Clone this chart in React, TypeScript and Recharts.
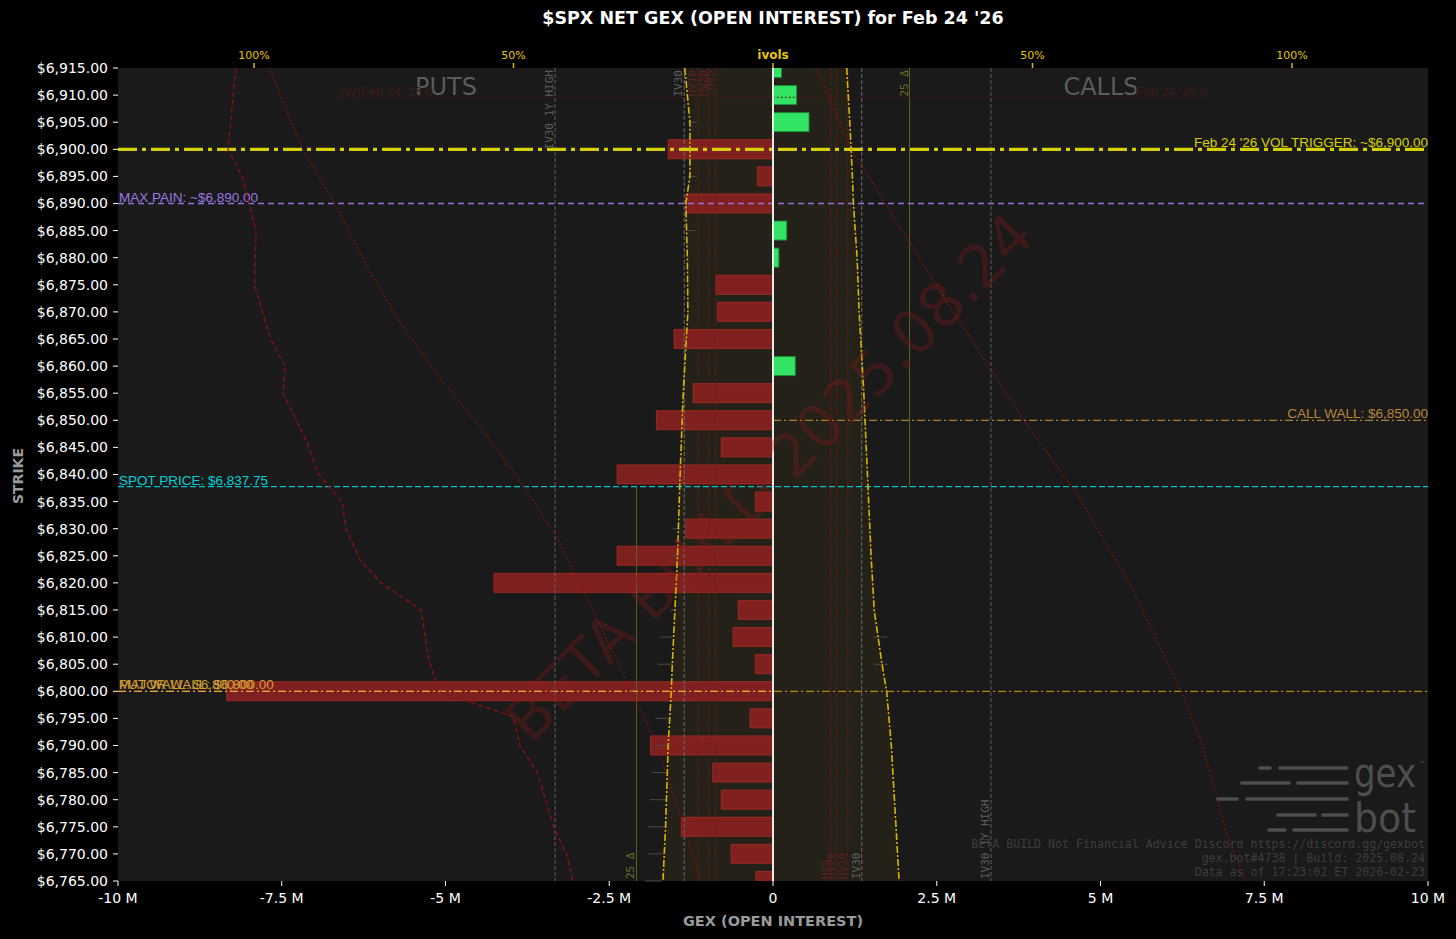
import React from 'react';
import {
  ComposedChart,
  Bar,
  Cell,
  Line,
  Area,
  XAxis,
  YAxis,
  ReferenceLine,
  CartesianGrid,
} from 'recharts';

// ---------- data ----------
const strikes = [
  6915, 6910, 6905, 6900, 6895, 6890, 6885, 6880, 6875, 6870, 6865, 6860, 6855, 6850, 6845, 6840,
  6835, 6830, 6825, 6820, 6815, 6810, 6805, 6800, 6795, 6790, 6785, 6780, 6775, 6770, 6765,
];
// net GEX in millions
const netGexM = [
  0.13, 0.36, 0.55, -1.6, -0.24, -1.33, 0.21, 0.09, -0.87, -0.85, -1.51, 0.34, -1.22, -1.78, -0.79, -2.38,
  -0.27, -1.33, -2.38, -4.26, -0.53, -0.61, -0.27, -8.34, -0.35, -1.87, -0.92, -0.79, -1.4, -0.64, -0.26,
];

const gexTicks = [-10, -7.5, -5, -2.5, 0, 2.5, 5, 7.5, 10];
const ivTicks = [-100, -50, 0, 50, 100];
const IV_MAX = 126.2;

// implied vol smile (put side negative, call side positive, %)
const ivolStrikes = [6915, 6905, 6895, 6890, 6880, 6870, 6855, 6840, 6825, 6815, 6805, 6800, 6790, 6775, 6765];
const putIvol = [-17.0, -16.0, -16.0, -16.8, -16.5, -16.4, -17.3, -17.9, -18.4, -18.9, -19.4, -19.6, -20.2, -20.7, -21.2];
const callIvol = [14.2, 14.8, 15.3, 15.5, 16.2, 16.6, 17.5, 18.2, 18.9, 19.5, 21.0, 21.9, 22.8, 23.7, 24.3];

// per-strike ivol range markers (put side)
const putMarkStrikes = [6905, 6895, 6885, 6830, 6825, 6815, 6810, 6805, 6795, 6790, 6785, 6780, 6775, 6770, 6765];
const putMarkLo = [-16.4, -16.4, -16.4, -19.3, -19.5, -19.8, -21.8, -22.2, -22.7, -23.1, -23.3, -23.7, -24.0, -24.0, -24.7];
const putMarkHi = [-14.6, -14.6, -15.0, -17.9, -18.3, -18.9, -19.3, -19.3, -19.8, -20.2, -20.2, -20.5, -20.8, -21.1, -21.4];
// per-strike ivol range markers (call side)
const callMarkStrikes = [6810, 6805];
const callMarkLo = [19.3, 19.5];
const callMarkHi = [22.0, 22.2];

// put-side dashed red curve
const putDashStrikes = [
  6915, 6900, 6895, 6885, 6875, 6865, 6860, 6855, 6846.4, 6840, 6835, 6830, 6824.2, 6820, 6815, 6806.4, 6800,
  6795.3, 6790, 6785, 6775, 6769.5, 6765,
];
const putDashValues = [
  -103.5, -105.0, -102.3, -99.6, -99.9, -96.8, -94.0, -94.4, -90.0, -87.5, -83.0, -82.3, -79.5, -75.5, -67.8, -66.4,
  -64.5, -50.0, -48.8, -45.4, -42.3, -39.6, -38.6,
];

// put-side dotted red curve
const putDotStrikes = [6915, 6900, 6890, 6878.3, 6867.3, 6858, 6850, 6839.6, 6828.5, 6815, 6802.7, 6791.6, 6783, 6773.9, 6765];
const putDotValues = [-97.1, -90.6, -84.4, -78.2, -71.3, -64.4, -57.5, -49.2, -41.7, -34.7, -28.6, -23.0, -19.9, -16.7, -14.1];

// call-side dotted red curve
const callDotStrikes = [6915, 6900, 6870.5, 6850, 6836.2, 6819.6, 6800, 6791, 6773.2, 6765];
const callDotValues = [8.3, 15.1, 34.4, 48.3, 58.7, 68.9, 78.6, 82.4, 87.6, 91.1];

// levels
const SPOT = 6837.75;
const VOL_TRIGGER = 6900;
const MAX_PAIN = 6890;
const CALL_WALL = 6850;
const PUT_WALL = 6800;
const WEEKLY_LEVEL = 6909.6;
const WEEKLY_SPAN = 6.66;

const IV30_1Y_HIGH = 42.0;
const DELTA25 = 26.3;
const IV30 = 17.1;
const HV_LEVELS = [14.4, 12.3, 11.1];
const HV_NAMES = ['HV10', 'HV20', 'HV5'];

const STRIKE_DOMAIN: [number, number] = [6765, 6915];

// ---------- derived tables ----------
const gexData = strikes.map((s, i) => ({ strike: s, gex: netGexM[i] }));
const ivolData = ivolStrikes.map((s, i) => ({
  strike: s,
  put: putIvol[i],
  call: callIvol[i],
  band: [putIvol[i], callIvol[i]],
}));
const putDashData = putDashStrikes.map((s, i) => ({ strike: s, v: putDashValues[i] }));
const putDotData = putDotStrikes.map((s, i) => ({ strike: s, v: putDotValues[i] }));
const callDotData = callDotStrikes.map((s, i) => ({ strike: s, v: callDotValues[i] }));
const markData = [
  ...putMarkStrikes.map((s, i) => ({ strike: s, lo: putMarkLo[i], hi: putMarkHi[i] })),
  ...callMarkStrikes.map((s, i) => ({ strike: s, lo: callMarkLo[i], hi: callMarkHi[i] })),
];

// ---------- helpers ----------
const SANS = 'DejaVu Sans, sans-serif';
const MONO = 'DejaVu Sans Mono, monospace';
const LBL = 'Liberation Sans, Arial, sans-serif';

const fmtStrike = (v: number) =>
  '$' + v.toLocaleString('en-US', { minimumFractionDigits: 2, maximumFractionDigits: 2 });
const fmtGex = (v: number) => (v === 0 ? '0' : `${v} M`);

const hLabel = (text: string, color: string, align: 'left' | 'right') => (p: any) => {
  const vb = p.viewBox || {};
  const x = align === 'left' ? vb.x + 1 : vb.x + vb.width;
  return (
    <text
      x={x}
      y={vb.y - 2}
      textAnchor={align === 'left' ? 'start' : 'end'}
      fill={color}
      fontSize={13.5}
      fontFamily={LBL}
    >
      {text}
    </text>
  );
};

const vLabel = (text: string, color: string, where: 'top' | 'bottom') => (p: any) => {
  const vb = p.viewBox || {};
  const x = vb.x - 2;
  const y = where === 'top' ? vb.y + 2 : vb.y + vb.height - 2;
  return (
    <text
      x={x}
      y={y}
      transform={`rotate(-90 ${x} ${y})`}
      textAnchor={where === 'top' ? 'end' : 'start'}
      fill={color}
      fontSize={11}
      fontFamily={MONO}
    >
      {text}
    </text>
  );
};

const IvTick = (props: any) => {
  const { x, y, payload } = props;
  const v = payload.value;
  const zero = v === 0;
  return (
    <text
      x={x}
      y={y - 2}
      textAnchor="middle"
      fill="#e3c600"
      fontSize={zero ? 12 : 11}
      fontWeight={zero ? 'bold' : 'normal'}
      fontFamily={SANS}
    >
      {zero ? 'ivols' : `${Math.abs(v)}%`}
    </text>
  );
};

const logoRows: [number, number, number, number, number][] = [
  [768, 1260, 1270, 1280, 1347],
  [783, 1242, 1289, 1298, 1347],
  [799, 1218, 1237, 1247, 1347],
  [815, 1278, 1315, 1323, 1347],
  [830, 1269, 1285, 1294, 1347],
];

export default function App() {
  return (
    <div
      style={{
        position: 'fixed',
        left: 0,
        top: 0,
        width: 1456,
        height: 939,
        background: '#000',
        overflow: 'hidden',
      }}
    >
      <ComposedChart
        layout="vertical"
        width={1456}
        height={939}
        data={gexData}
        margin={{ top: 48, right: 28, bottom: 28, left: 8 }}
      >
        <CartesianGrid xAxisId="gex" yAxisId="s" horizontal={false} vertical={false} fill="#1a1a1a" />
        <XAxis
          xAxisId="gex"
          type="number"
          orientation="bottom"
          domain={[-10, 10]}
          ticks={gexTicks}
          allowDataOverflow
          tickFormatter={fmtGex}
          height={30}
          tickSize={5}
          tickMargin={7}
          axisLine={false}
          tickLine={{ stroke: '#ffffff' }}
          tick={{ fill: '#ffffff', fontSize: 14, fontFamily: SANS }}
          interval={0}
        />
        <XAxis
          xAxisId="iv"
          type="number"
          orientation="top"
          domain={[-IV_MAX, IV_MAX]}
          ticks={ivTicks}
          allowDataOverflow
          height={20}
          tickSize={5}
          tickMargin={2}
          axisLine={false}
          tickLine={{ stroke: '#d8bb00', strokeWidth: 1.5 }}
          tick={<IvTick />}
          interval={0}
        />
        <YAxis
          yAxisId="s"
          type="number"
          dataKey="strike"
          domain={STRIKE_DOMAIN}
          ticks={strikes}
          reversed
          allowDataOverflow
          width={110}
          tickSize={5}
          tickMargin={5}
          axisLine={false}
          tickLine={{ stroke: '#ffffff' }}
          tick={{ fill: '#ffffff', fontSize: 14, fontFamily: SANS }}
          tickFormatter={fmtStrike}
          interval={0}
        />
        <YAxis
          yAxisId="c"
          type="number"
          dataKey="strike"
          orientation="right"
          width={0}
          domain={STRIKE_DOMAIN}
          reversed
          allowDataOverflow
          hide
        />

        {/* band between put and call ivols */}
        <Area
          xAxisId="iv"
          yAxisId="c"
          data={ivolData}
          dataKey="band"
          type="linear"
          stroke="none"
          fill="#d4b000"
          fillOpacity={0.05}
          isAnimationActive={false}
        />

        {/* vertical vol reference lines */}
        <ReferenceLine xAxisId="iv" yAxisId="s" x={-IV30_1Y_HIGH} stroke="#5e5e5e" strokeDasharray="4 2"
          label={vLabel('IV30 1Y HIGH', '#5e5e5e', 'top')} />
        <ReferenceLine xAxisId="iv" yAxisId="s" x={IV30_1Y_HIGH} stroke="#5e5e5e" strokeDasharray="4 2"
          label={vLabel('IV30 1Y HIGH', '#5e5e5e', 'bottom')} />
        <ReferenceLine xAxisId="iv" yAxisId="s" x={-IV30} stroke="#6a6a6a" strokeDasharray="4 2"
          label={vLabel('IV30', '#5e5e5e', 'top')} />
        <ReferenceLine xAxisId="iv" yAxisId="s" x={IV30} stroke="#6a6a6a" strokeDasharray="4 2"
          label={vLabel('IV30', '#5e5e5e', 'bottom')} />
        {HV_LEVELS.map((h, i) => (
          <ReferenceLine key={'hvl' + i} xAxisId="iv" yAxisId="s" x={-h} stroke="#6e1c1c" strokeDasharray="3 2"
            label={vLabel(HV_NAMES[i], '#5a2222', 'top')} />
        ))}
        {HV_LEVELS.map((h, i) => (
          <ReferenceLine key={'hvr' + i} xAxisId="iv" yAxisId="s" x={h} stroke="#6e1c1c" strokeDasharray="3 2"
            label={vLabel(HV_NAMES[i], '#5a2222', 'bottom')} />
        ))}
        <ReferenceLine
          xAxisId="iv"
          yAxisId="s"
          segment={[{ x: -DELTA25, y: SPOT }, { x: -DELTA25, y: STRIKE_DOMAIN[0] }]}
          stroke="#5f5f1e"
          strokeWidth={1}
          label={vLabel('25 Δ', '#6e6e22', 'bottom')}
        />
        <ReferenceLine
          xAxisId="iv"
          yAxisId="s"
          segment={[{ x: DELTA25, y: STRIKE_DOMAIN[1] }, { x: DELTA25, y: SPOT }]}
          stroke="#5f5f1e"
          strokeWidth={1}
          label={vLabel('25 Δ', '#6e6e22', 'top')}
        />

        {/* GEX bars */}
        <Bar xAxisId="gex" yAxisId="s" dataKey="gex" barSize={19} isAnimationActive={false}>
          {gexData.map((d, i) => (
            <Cell
              key={i}
              fill={d.gex >= 0 ? '#33e464' : '#8f2222'}
              fillOpacity={d.gex >= 0 ? 1 : 0.86}
              stroke={d.gex >= 0 ? '#1f8c3e' : '#9a2a20'}
              strokeWidth={1}
            />
          ))}
        </Bar>

        {/* per-strike ivol markers */}
        {markData.map((m, i) => (
          <ReferenceLine
            key={'mk' + i}
            xAxisId="iv"
            yAxisId="s"
            segment={[{ x: m.lo, y: m.strike }, { x: m.hi, y: m.strike }]}
            stroke="#4a4a4a"
            strokeWidth={1}
          />
        ))}

        {/* weekly expected move line */}
        <ReferenceLine
          xAxisId="gex"
          yAxisId="s"
          segment={[{ x: -WEEKLY_SPAN, y: WEEKLY_LEVEL }, { x: WEEKLY_SPAN, y: WEEKLY_LEVEL }]}
          stroke="#4c1a1a"
          strokeDasharray="2 2"
        />

        {/* horizontal levels */}
        <ReferenceLine xAxisId="gex" yAxisId="s" y={PUT_WALL} stroke="#b8860b" strokeWidth={1.2} strokeDasharray="8 3 2 3"
          label={hLabel('PUT WALL: $6,800.00', '#c9a227', 'left')} />
        <ReferenceLine
          xAxisId="gex"
          yAxisId="s"
          segment={[{ x: -10, y: PUT_WALL }, { x: 0, y: PUT_WALL }]}
          stroke="#e8a238"
          strokeWidth={1.2}
          strokeDasharray="8 3 2 3"
          label={hLabel('MAJOR WALL: $6,800.00', '#d9963a', 'left')}
        />
        <ReferenceLine
          xAxisId="gex"
          yAxisId="s"
          segment={[{ x: 0, y: CALL_WALL }, { x: 10, y: CALL_WALL }]}
          stroke="#a88030"
          strokeWidth={1.2}
          strokeDasharray="8 3 2 3"
          label={hLabel('CALL WALL: $6,850.00', '#b8873a', 'right')}
        />
        <ReferenceLine xAxisId="gex" yAxisId="s" y={SPOT} stroke="#00c4cc" strokeWidth={1.3} strokeDasharray="6 3"
          label={hLabel('SPOT PRICE: $6,837.75', '#00d0d8', 'left')} />
        <ReferenceLine xAxisId="gex" yAxisId="s" y={MAX_PAIN} stroke="#9370db" strokeWidth={1.5} strokeDasharray="6 4"
          label={hLabel('MAX PAIN: ~$6,890.00', '#9b78e0', 'left')} />
        <ReferenceLine xAxisId="gex" yAxisId="s" y={VOL_TRIGGER} stroke="#d6d000" strokeWidth={3.2} strokeDasharray="19 5 4 5"
          label={hLabel("Feb 24 '26 VOL TRIGGER: ~$6,900.00", '#d6d000', 'right')} />

        {/* vol curves */}
        <Line xAxisId="iv" yAxisId="c" data={putDashData} dataKey="v" type="linear" stroke="#8a1212"
          strokeWidth={1.3} strokeDasharray="5 3" dot={false} isAnimationActive={false} />
        <Line xAxisId="iv" yAxisId="c" data={putDotData} dataKey="v" type="linear" stroke="#8a1212"
          strokeWidth={1.4} strokeDasharray="1.5 2.5" dot={false} isAnimationActive={false} />
        <Line xAxisId="iv" yAxisId="c" data={callDotData} dataKey="v" type="linear" stroke="#8a1212"
          strokeWidth={1.4} strokeDasharray="1.5 2.5" dot={false} isAnimationActive={false} />
        <Line xAxisId="iv" yAxisId="c" data={ivolData} dataKey="put" type="linear" stroke="#d8b400"
          strokeWidth={1.6} strokeDasharray="7 2 2 2" dot={false} isAnimationActive={false} />
        <Line xAxisId="iv" yAxisId="c" data={ivolData} dataKey="call" type="linear" stroke="#d8b400"
          strokeWidth={1.6} strokeDasharray="7 2 2 2" dot={false} isAnimationActive={false} />

        {/* zero line */}
        <ReferenceLine xAxisId="gex" yAxisId="s" x={0} stroke="#ffffff" strokeWidth={1.8} />
      </ComposedChart>

      <svg
        width={1456}
        height={939}
        style={{ position: 'absolute', left: 0, top: 0, pointerEvents: 'none' }}
      >
        <text x={773} y={24} textAnchor="middle" fill="#ffffff" fontSize={17.5} fontWeight="bold" fontFamily={SANS}>
          $SPX NET GEX (OPEN INTEREST) for Feb 24 '26
        </text>
        <text x={773} y={926} textAnchor="middle" fill="#9a9a9a" fontSize={14.5} fontWeight="bold" fontFamily={SANS}>
          GEX (OPEN INTEREST)
        </text>
        <text
          x={23}
          y={476}
          transform="rotate(-90 23 476)"
          textAnchor="middle"
          fill="#9a9a9a"
          fontSize={14}
          fontWeight="bold"
          fontFamily={SANS}
        >
          STRIKE
        </text>

        <text x={446} y={95} textAnchor="middle" fill="#5c5c5c" fontSize={24} fontFamily={SANS}>
          PUTS
        </text>
        <text x={1101} y={95} textAnchor="middle" fill="#5c5c5c" fontSize={24} fontFamily={SANS}>
          CALLS
        </text>
        <text x={340} y={96} fill="#3c1a1a" fontSize={13} fontFamily={LBL}>
          (W)Feb 24 '26 σ
        </text>
        <text x={1208} y={96} textAnchor="end" fill="#3c1a1a" fontSize={13} fontFamily={LBL}>
          Feb 24 '26 σ
        </text>

        <text
          x={0}
          y={0}
          transform="translate(784 492) rotate(-45)"
          textAnchor="middle"
          fill="#8b1a1a"
          fillOpacity={0.3}
          fontSize={60}
          fontFamily={SANS}
        >
          BETA BUILD 2025.08.24
        </text>

        {logoRows.map((r, i) => (
          <g key={i} stroke="#4e4e4e" strokeWidth={3.6} strokeLinecap="round">
            <line x1={r[1]} y1={r[0]} x2={r[2]} y2={r[0]} />
            <line x1={r[3]} y1={r[0]} x2={r[4]} y2={r[0]} />
          </g>
        ))}
        <text x={1354} y={787} fill="#4e4e4e" fontSize={40} fontFamily={SANS} textLength={62} lengthAdjust="spacingAndGlyphs">
          gex
        </text>
        <text x={1354} y={832} fill="#4e4e4e" fontSize={40} fontFamily={SANS} textLength={62} lengthAdjust="spacingAndGlyphs">
          bot
        </text>
        <text x={1419} y={766} fill="#4e4e4e" fontSize={7} fontFamily={SANS}>
          ™
        </text>

        <g fill="#3d3d3d" fontSize={11.6} fontFamily={MONO} textAnchor="end">
          <text x={1425} y={848}>BETA BUILD Not Financial Advice Discord https://discord.gg/gexbot</text>
          <text x={1425} y={862}>gex.bot#4738 | Build: 2025.08.24</text>
          <text x={1425} y={876}>Data as of 17:23:02 ET 2026-02-23</text>
        </g>
      </svg>
    </div>
  );
}
